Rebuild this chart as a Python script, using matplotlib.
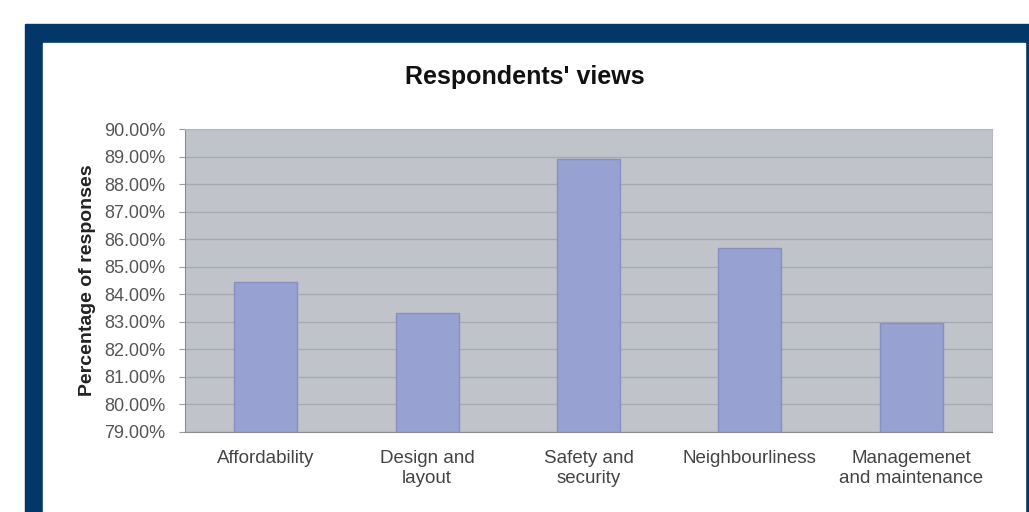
import matplotlib
matplotlib.use("Agg")
import matplotlib.pyplot as plt
from matplotlib.patches import Rectangle
from matplotlib.ticker import FuncFormatter

# ====== DATA ====== #
categories = ["Affordability", "Design and\nlayout", "Safety and\nsecurity",
              "Neighbourliness", "Managemenet\nand maintenance"]
values = [84.44, 83.33, 88.90, 85.69, 82.94]
y_ticks = list(range(79, 91))

plt.rcParams['font.family'] = ['Liberation Sans', 'DejaVu Sans']

W, H = 1029, 512
fig = plt.figure(figsize=(W / 100, H / 100), dpi=100, facecolor="white")

# blue frame + white inner panel (behind the axes)
fig.patches.append(Rectangle((25 / W, 0), (W - 25) / W, (H - 24) / H,
                             transform=fig.transFigure, color="#03376A", zorder=-10))
fig.patches.append(Rectangle((43 / W, 0), (1025 - 43) / W, (H - 43) / H,
                             transform=fig.transFigure, color="white", zorder=-9))

ax = fig.add_axes([185 / W, (H - 432) / H, (992 - 185) / W, (432 - 129) / H])
ax.set_facecolor("#C0C4CA")

x = range(len(categories))
ax.bar(x, [v - 79 for v in values], bottom=79, width=0.39,
       color="#97A1D2", edgecolor="#8790C2", linewidth=1, zorder=3)

ax.set_ylim(79, 90)
ax.set_xlim(-0.5, len(categories) - 0.5)
ax.set_yticks(y_ticks)
ax.yaxis.set_major_formatter(FuncFormatter(lambda v, p: f"{v:.2f}%"))
ax.grid(axis="y", color="#A6AAB1", linewidth=1, zorder=1)

ax.set_xticks(list(x))
ax.set_xticklabels(categories, fontsize=13.5, color="#444444", linespacing=1.2)
ax.tick_params(axis="x", length=0, pad=13)
ax.tick_params(axis="y", labelsize=13, labelcolor="#555555", length=4,
               color="#9A9A9A", pad=10)

for side in ["top", "right"]:
    ax.spines[side].set_color("#B4B8BE")
for side in ["left", "bottom"]:
    ax.spines[side].set_color("#8C8C8C")

ax.set_ylabel("Percentage of responses", fontsize=14, fontweight="bold",
              color="#222222", labelpad=6)

fig.text(525 / W, (H - 77) / H, "Respondents' views", fontsize=18,
         fontweight="bold", ha="center", va="center", color="#111111")

fig.savefig("out.png", dpi=100, facecolor="white")
